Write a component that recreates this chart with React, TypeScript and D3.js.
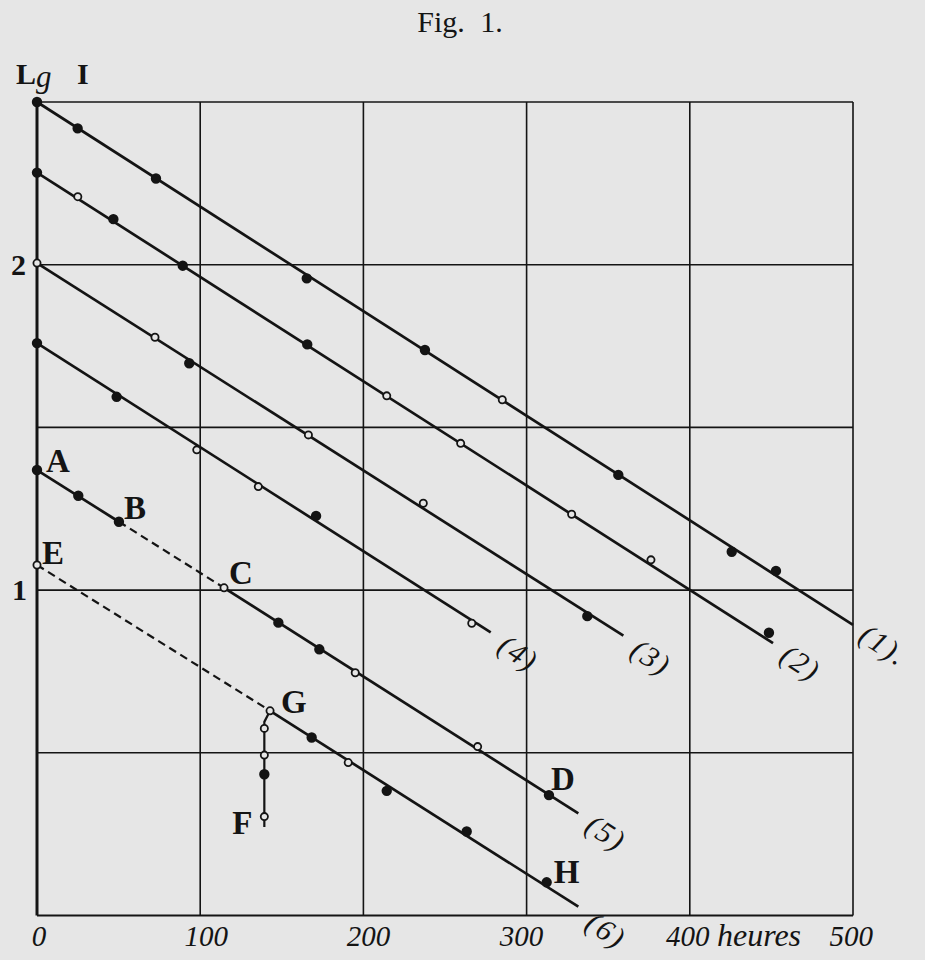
import React from "react";
import * as d3 from "d3";

const W = 925;
const H = 960;

// axes
const hourTicks = [0, 100, 200, 300, 400, 500];
const hourTickLabels = ["0", "100", "200", "300", "400", "500"];
const lgTicks = [0, 0.5, 1, 1.5, 2, 2.5];
const lgLabelValues = [1, 2];
const lgLabelTexts = ["1", "2"];
const title = "Fig. 1.";
const xUnit = "heures";

type Pt = { t: number; v: number; open?: boolean };

// measured points (hours, log intensity)
const serie1: Pt[] = [
  { t: 0, v: 2.5 },
  { t: 24.9, v: 2.419 },
  { t: 72.9, v: 2.265 },
  { t: 165.3, v: 1.958 },
  { t: 237.7, v: 1.738 },
  { t: 285.1, v: 1.585, open: true },
  { t: 356.2, v: 1.354 },
  { t: 425.7, v: 1.118 },
  { t: 452.8, v: 1.059 },
];
const serie2: Pt[] = [
  { t: 0, v: 2.283 },
  { t: 25, v: 2.209, open: true },
  { t: 46.8, v: 2.14 },
  { t: 89.3, v: 1.997 },
  { t: 165.6, v: 1.755 },
  { t: 214.3, v: 1.597, open: true },
  { t: 259.6, v: 1.451, open: true },
  { t: 327.6, v: 1.233, open: true },
  { t: 376.2, v: 1.093, open: true },
  { t: 448.5, v: 0.869 },
];
const serie3: Pt[] = [
  { t: 0, v: 2.005, open: true },
  { t: 72.3, v: 1.777, open: true },
  { t: 93.3, v: 1.697 },
  { t: 166.3, v: 1.477, open: true },
  { t: 236.7, v: 1.267, open: true },
  { t: 337.2, v: 0.92 },
];
const serie4: Pt[] = [
  { t: 0, v: 1.759 },
  { t: 48.8, v: 1.594 },
  { t: 97.9, v: 1.431, open: true },
  { t: 135.6, v: 1.318, open: true },
  { t: 171, v: 1.228 },
  { t: 266.4, v: 0.898, open: true },
];
const serie5: Pt[] = [
  { t: 0, v: 1.369 },
  { t: 25.3, v: 1.29 },
  { t: 50.2, v: 1.21 },
  { t: 114.6, v: 1.007, open: true },
  { t: 147.9, v: 0.9 },
  { t: 173, v: 0.818 },
  { t: 195, v: 0.746, open: true },
  { t: 270, v: 0.519, open: true },
  { t: 313.7, v: 0.37 },
];
const serie6: Pt[] = [
  { t: 0, v: 1.077, open: true },
  { t: 142.8, v: 0.629, open: true },
  { t: 168.3, v: 0.547 },
  { t: 190.7, v: 0.47, open: true },
  { t: 214.3, v: 0.383 },
  { t: 263.3, v: 0.258 },
  { t: 312.3, v: 0.102 },
];
const serieFG: Pt[] = [
  { t: 139.3, v: 0.575, open: true },
  { t: 139.3, v: 0.493, open: true },
  { t: 139.3, v: 0.434 },
  { t: 139.3, v: 0.304, open: true },
];

// fitted straight lines: [start, end], dashed flag
type Seg = { a: [number, number]; b: [number, number]; dashed?: boolean };
const lines1: Seg[] = [{ a: [0, 2.5], b: [500, 0.893] }];
const lines2: Seg[] = [{ a: [0, 2.283], b: [451, 0.837] }];
const lines3: Seg[] = [{ a: [0, 2.005], b: [359.3, 0.86] }];
const lines4: Seg[] = [{ a: [0, 1.759], b: [278, 0.87] }];
const lines5: Seg[] = [
  { a: [0, 1.369], b: [50.2, 1.21] },
  { a: [50.2, 1.21], b: [114.6, 1.007], dashed: true },
  { a: [114.6, 1.007], b: [331.7, 0.314] },
];
const lines6: Seg[] = [
  { a: [0, 1.077], b: [142.8, 0.629], dashed: true },
  { a: [142.8, 0.629], b: [331.7, 0.027] },
];
const fgPath: [number, number][] = [
  [142.8, 0.629],
  [139.3, 0.595],
  [139.3, 0.272],
];

const curveNames = ["(1).", "(2)", "(3)", "(4)", "(5)", "(6)"];
const curveEnds: [number, number][] = [
  [500, 0.893],
  [451, 0.837],
  [359.3, 0.86],
  [278, 0.87],
  [331.7, 0.314],
  [331.7, 0.027],
];

// letter annotations anchored at points
const letterNames = ["A", "B", "C", "D", "E", "F", "G", "H"];
const letterPoints: [number, number][] = [
  [0, 1.369],
  [50.2, 1.21],
  [114.6, 1.007],
  [313.7, 0.37],
  [0, 1.077],
  [139.3, 0.304],
  [142.8, 0.629],
  [312.3, 0.102],
];

export default function App() {
  const x = d3.scaleLinear().domain([0, 500]).range([37, 853]);
  const y = d3.scaleLinear().domain([0, 2.5]).range([915.5, 102]);
  const line = d3
    .line<[number, number]>()
    .x((d) => x(d[0]))
    .y((d) => y(d[1]));

  const ink = "#141414";
  const paper = "#e6e6e6";

  const allSeries = [serie1, serie2, serie3, serie4, serie5, serie6, serieFG];
  const allLines = [lines1, lines2, lines3, lines4, lines5, lines6];

  const letterOffsets: Record<string, [number, number, string]> = {
    A: [9, 2, "start"],
    B: [5, -3, "start"],
    C: [5, -4, "start"],
    D: [2, -5, "start"],
    E: [5, -1, "start"],
    F: [-12, 17, "end"],
    G: [11, 2, "start"],
    H: [7, 1, "start"],
  };
  const curveOffsets: [number, number][] = [
    [4, 15],
    [5, 17],
    [5, 19],
    [5, 18],
    [5, 17],
    [5, 21],
  ];
  const xLabelShift = [2, 6, 5, -5, -2, 20];

  return (
    <div style={{ position: "absolute", left: 0, top: 0 }}>
      <svg width={W} height={H} style={{ display: "block", background: paper }}>
        <rect x={0} y={0} width={W} height={H} fill={paper} />
        {/* title */}
        <text
          x={460}
          y={32}
          textAnchor="middle"
          fontFamily="Liberation Serif"
          fontSize={30}
          fill={ink}
          wordSpacing={8}
        >
          {title}
        </text>

        {/* grid */}
        {lgTicks.map((v) => (
          <line
            key={"h" + v}
            x1={x(0)}
            x2={x(500)}
            y1={y(v)}
            y2={y(v)}
            stroke={ink}
            strokeWidth={v === 0 ? 2 : 1.6}
          />
        ))}
        {hourTicks.map((t) => (
          <line
            key={"v" + t}
            x1={x(t)}
            x2={x(t)}
            y1={y(0)}
            y2={y(2.5)}
            stroke={ink}
            strokeWidth={t === 0 ? 3 : 1.6}
          />
        ))}

        {/* y labels */}
        {lgLabelValues.map((v, i) => (
          <text
            key={"yl" + v}
            x={i === 0 ? 27 : 26}
            y={y(v) + 10}
            textAnchor="end"
            fontFamily="Liberation Serif"
            fontWeight="bold"
            fontSize={30}
            fill={ink}
          >
            {lgLabelTexts[i]}
          </text>
        ))}
        <text x={16} y={84} fontFamily="Liberation Serif" fontWeight="bold" fontSize={30} fill={ink}>
          L
        </text>
        <text x={36} y={87} fontFamily="Liberation Serif" fontStyle="italic" fontSize={31} fill={ink}>
          g
        </text>
        <text x={77} y={84} fontFamily="Liberation Serif" fontWeight="bold" fontSize={30} fill={ink}>
          I
        </text>

        {/* x labels */}
        {hourTicks.map((t, i) => {
          const isLast = i === hourTicks.length - 1;
          return (
            <text
              key={"xl" + t}
              x={x(t) + xLabelShift[i]}
              y={946}
              textAnchor={isLast ? "end" : "middle"}
              fontFamily="Liberation Serif"
              fontStyle="italic"
              fontSize={29}
              fill={ink}
            >
              {hourTickLabels[i]}
            </text>
          );
        })}
        <text
          x={759}
          y={946}
          textAnchor="middle"
          fontFamily="Liberation Serif"
          fontStyle="italic"
          fontSize={32}
          fill={ink}
        >
          {xUnit}
        </text>

        {/* fitted lines */}
        {allLines.map((segs, i) =>
          segs.map((s, j) => (
            <path
              key={"l" + i + "_" + j}
              d={line([s.a, s.b]) || ""}
              fill="none"
              stroke={ink}
              strokeWidth={s.dashed ? 2.2 : 2.7}
              strokeDasharray={s.dashed ? "8,5" : undefined}
            />
          ))
        )}
        <path d={line(fgPath) || ""} fill="none" stroke={ink} strokeWidth={2.2} />

        {/* points */}
        {allSeries.map((s, i) =>
          s.map((p, j) => (
            <circle
              key={"p" + i + "_" + j}
              cx={x(p.t)}
              cy={y(p.v)}
              r={p.open ? 3.6 : 4.3}
              fill={p.open ? paper : ink}
              stroke={ink}
              strokeWidth={1.8}
            />
          ))
        )}

        {/* curve labels */}
        {curveNames.map((name, i) => {
          const [t, v] = curveEnds[i];
          const px = x(t) + curveOffsets[i][0];
          const py = y(v) + curveOffsets[i][1];
          return (
            <text
              key={"c" + i}
              transform={`translate(${px},${py}) rotate(33)`}
              fontFamily="Liberation Serif"
              fontStyle="italic"
              fontSize={30}
              fill={ink}
              letterSpacing={2}
            >
              {name}
            </text>
          );
        })}

        {/* letters */}
        {letterNames.map((n, i) => {
          const [t, v] = letterPoints[i];
          const o = letterOffsets[n];
          return (
            <text
              key={"L" + n}
              x={x(t) + o[0]}
              y={y(v) + o[1]}
              textAnchor={o[2] as any}
              fontFamily="Liberation Serif"
              fontWeight="bold"
              fontSize={33}
              fill={ink}
            >
              {n}
            </text>
          );
        })}
      </svg>
    </div>
  );
}
